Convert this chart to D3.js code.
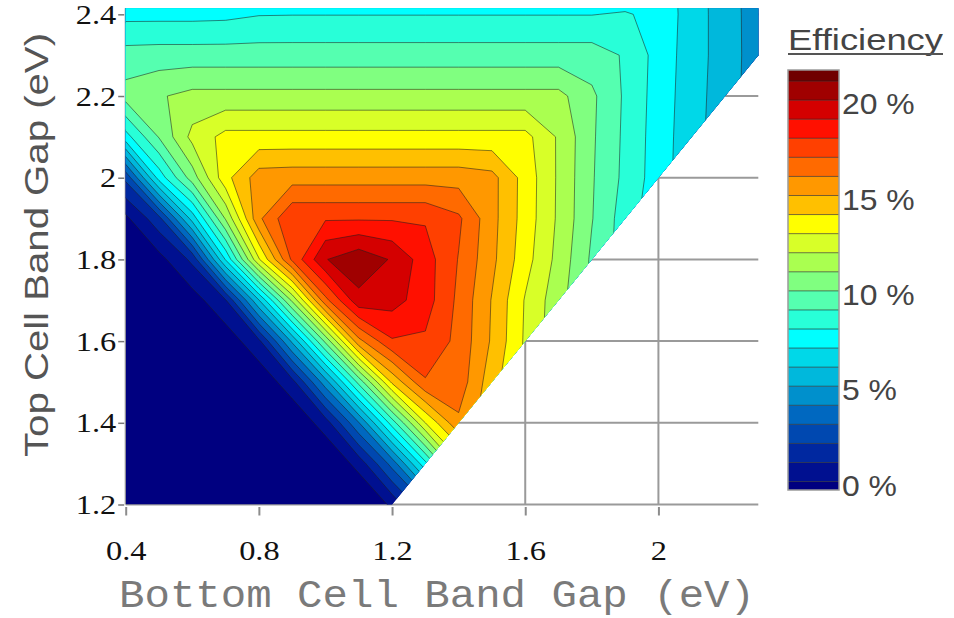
<!DOCTYPE html>
<html>
<head>
<meta charset="utf-8">
<script src="https://cdn.jsdelivr.net/npm/d3@7"></script>
<style>
  body { margin: 0; background: #fff; }
  svg { display: block; }
</style>
</head>
<body>
<svg id="chart" width="954" height="618"></svg>
<script>
// Band gap grid (eV): bottom cell along x, top cell along y
const bottomGap = [0.4, 0.5, 0.6, 0.7, 0.8, 0.9, 1.0, 1.1, 1.2, 1.3, 1.4, 1.5, 1.6, 1.7, 1.8, 1.9, 2.0, 2.1, 2.2, 2.3];
const topGap = [1.2, 1.3, 1.4, 1.5, 1.6, 1.7, 1.8, 1.9, 2.0, 2.1, 2.2, 2.3, 2.4, 2.5];

// Tandem efficiency (%) on the grid, one row per top-cell band gap
const eff_120 = [-11.2, -9.8, -8.3, -6.9, -5.5, -4.1, -2.6, -1.2, 0.21, 2.9, 7.0, 11.0, 12.5, 11.0, 9.5, 8.1, 6.9, 5.8, 4.8, 3.8];
const eff_130 = [-9.6, -8.2, -6.8, -5.4, -3.9, -2.5, -1.07, 0.36, 3.38, 7.7, 12.5, 14.0, 12.6, 11.1, 9.6, 8.2, 7.0, 5.9, 4.9, 3.9];
const eff_140 = [-8.1, -6.6, -5.2, -3.8, -2.4, -0.93, 0.5, 3.94, 8.47, 13.0, 15.8, 14.3, 12.7, 11.2, 9.7, 8.3, 7.1, 6.0, 5.0, 4.0];
const eff_150 = [-6.5, -5.1, -3.6, -2.2, -0.79, 0.64, 4.57, 9.33, 14.2, 16.9, 16.6, 14.4, 12.8, 11.3, 9.8, 8.4, 7.2, 6.1, 5.1, 4.1];
const eff_160 = [-4.9, -3.5, -2.1, -0.66, 0.77, 5.2, 10.25, 15.7, 17.9, 17.85, 16.7, 14.87, 12.85, 11.3, 9.8, 8.4, 7.2, 6.1, 5.1, 4.1];
const eff_170 = [-3.4, -1.9, -0.5, 0.91, 5.95, 11.2, 16.7, 19.7, 19.4, 18.46, 16.77, 14.94, 12.92, 11.38, 9.8, 8.4, 7.2, 6.1, 5.1, 4.1];
const eff_180 = [-1.8, -0.37, 1.23, 7.08, 12.9, 17.2, 19.95, 20.7, 19.9, 18.46, 16.95, 15.25, 13.4, 11.67, 9.83, 8.5, 7.2, 6.1, 5.1, 4.1];
const eff_190 = [-0.23, 1.66, 6.4, 11.1, 15.8, 17.9, 17.9, 17.9, 17.9, 17.9, 17.18, 15.33, 13.57, 11.83, 10.05, 8.5, 7.3, 6.2, 5.2, 4.2];
const eff_200 = [2.24, 7.4, 10.5, 13.67, 15.5, 15.59, 15.59, 15.59, 15.59, 15.59, 15.59, 15.33, 13.6, 11.85, 10.1, 8.75, 7.47, 6.35, 5.35, 4.35];
const eff_210 = [7.6, 10.07, 12.3, 13.32, 13.32, 13.32, 13.32, 13.32, 13.32, 13.32, 13.32, 13.32, 13.32, 11.87, 10.15, 8.8, 7.5, 6.4, 5.4, 4.4];
const eff_220 = [10.4, 10.9, 11.3, 11.3, 11.3, 11.3, 11.3, 11.3, 11.3, 11.3, 11.3, 11.3, 11.3, 11.3, 10.2, 8.85, 7.55, 6.45, 5.45, 4.5];
const eff_230 = [9.4, 9.46, 9.46, 9.46, 9.46, 9.46, 9.46, 9.46, 9.46, 9.46, 9.46, 9.46, 9.46, 9.46, 9.46, 8.9, 7.6, 6.5, 5.5, 4.5];
const eff_240 = [7.7, 7.7, 7.7, 7.75, 7.95, 7.97, 7.97, 7.97, 7.97, 7.97, 7.97, 7.97, 7.97, 7.97, 7.97, 8.1, 7.69, 6.52, 5.48, 4.5];
const eff_250 = [6.6, 6.6, 6.6, 6.6, 6.6, 6.6, 6.6, 6.6, 6.6, 6.6, 6.6, 6.6, 6.6, 6.6, 6.6, 6.6, 7.6, 6.5, 5.45, 4.45];

// Contour levels (%) and fill colours: first colour is below the lowest level
const levels = d3.range(0, 22);
const bandColors = ["#000080", "#001090", "#0028a0", "#0048b0", "#0068c0", "#0090cc", "#00b8dc", "#00d8e8",
  "#00ffff", "#28ffd8", "#55ffb0", "#80ff80", "#aaff50", "#d8ff28", "#ffff00", "#ffc000", "#ff9800",
  "#ff6a00", "#ff4000", "#ff1000", "#d40000", "#a00000", "#700000"];

// Axes
const xDomain = [0.4, 2.3];
const yDomain = [1.2, 2.415];
const xTicks = [0.4, 0.8, 1.2, 1.6, 2];
const yTicks = [1.2, 1.4, 1.6, 1.8, 2, 2.2, 2.4];

// Colour bar
const barDomain = [-0.44, 21.58];
const barTicks = [0, 5, 10, 15, 20];

const svg = d3.select("#chart");
const x = d3.scaleLinear().domain(xDomain).range([125.7, 758.3]);
const y = d3.scaleLinear().domain(yDomain).range([504.5, 8.2]);

// Grid lines (visible only outside the valid region)
const grid = svg.append("g").attr("stroke", "#9a9a9a").attr("stroke-width", 2);
grid.selectAll("line.v").data(xTicks).join("line")
  .attr("x1", d => x(d)).attr("x2", d => x(d))
  .attr("y1", y(yDomain[0])).attr("y2", y(yDomain[1]));
grid.selectAll("line.h").data(yTicks).join("line")
  .attr("x1", x(xDomain[0])).attr("x2", x(xDomain[1]))
  .attr("y1", d => y(d)).attr("y2", d => y(d));

// Valid region: top-cell gap not smaller than bottom-cell gap
const region = [[xDomain[0], yDomain[0]], [yDomain[0], yDomain[0]], [xDomain[1], xDomain[1]],
  [xDomain[1], yDomain[1]], [xDomain[0], yDomain[1]]];
svg.append("clipPath").attr("id", "valid")
  .append("path")
  .attr("d", d3.line().x(d => x(d[0])).y(d => y(d[1]))(region) + "Z");

const rows = [eff_120, eff_130, eff_140, eff_150, eff_160, eff_170, eff_180, eff_190,
  eff_200, eff_210, eff_220, eff_230, eff_240, eff_250];
const nx = bottomGap.length, ny = topGap.length;
const values = rows.flat();

const gx = d3.scaleLinear().domain([0.5, nx - 0.5]).range([x(bottomGap[0]), x(bottomGap[nx - 1])]);
const gy = d3.scaleLinear().domain([0.5, ny - 0.5]).range([y(topGap[0]), y(topGap[ny - 1])]);
const path = d3.geoPath(d3.geoTransform({
  point(px, py) { this.stream.point(gx(px), gy(py)); }
}));

const contours = d3.contours().size([nx, ny]).thresholds(levels)(values);

const plot = svg.append("g").attr("clip-path", "url(#valid)");
plot.append("rect")
  .attr("x", x(xDomain[0])).attr("y", y(yDomain[1]))
  .attr("width", x(xDomain[1]) - x(xDomain[0]))
  .attr("height", y(yDomain[0]) - y(yDomain[1]))
  .attr("fill", bandColors[0]);
plot.selectAll("path.band").data(contours).join("path")
  .attr("class", "band")
  .attr("d", path)
  .attr("fill", (d, i) => bandColors[i + 1])
  .attr("stroke", "#1e1e1e")
  .attr("stroke-opacity", 0.6)
  .attr("stroke-width", 0.9)
  .attr("stroke-linejoin", "round");

// X axis
const xAxis = svg.append("g")
  .attr("transform", `translate(0,${y(yDomain[0])})`)
  .call(d3.axisBottom(x).tickValues(xTicks).tickFormat(d => String(d)).tickSize(11).tickPadding(0));
xAxis.select(".domain").remove();
xAxis.selectAll(".tick line").attr("stroke", "#8c8c8c").attr("stroke-width", 2).attr("y1", 2.5);
xAxis.selectAll(".tick text")
  .attr("y", 0).attr("dy", 0)
  .attr("transform", "translate(0,55) scale(1.2,1)")
  .attr("fill", "#111")
  .style("font-family", "'Liberation Serif', 'Times New Roman', serif")
  .style("font-size", "27px");

// Y axis
const yAxis = svg.append("g")
  .attr("transform", `translate(${x(xDomain[0]) - 1.5},0)`)
  .call(d3.axisLeft(y).tickValues(yTicks).tickFormat(d => String(d)).tickSize(6).tickPadding(0));
yAxis.select(".domain").remove();
yAxis.selectAll(".tick line").attr("stroke", "#777").attr("stroke-width", 1.5);
yAxis.selectAll(".tick text")
  .attr("x", 0).attr("dy", 0)
  .attr("transform", "translate(-8,9) scale(1.2,1)")
  .attr("fill", "#111")
  .style("font-family", "'Liberation Serif', 'Times New Roman', serif")
  .style("font-size", "27px");

// Axis titles
svg.append("text")
  .attr("x", 437).attr("y", 607)
  .attr("text-anchor", "middle")
  .attr("textLength", 636).attr("lengthAdjust", "spacingAndGlyphs")
  .attr("fill", "#7a7a7a")
  .style("font-family", "'Liberation Mono', 'Courier New', monospace")
  .style("font-size", "39px")
  .text("Bottom Cell Band Gap (eV)");

svg.append("text")
  .attr("transform", "translate(48,245) rotate(-90)")
  .attr("text-anchor", "middle")
  .attr("textLength", 424).attr("lengthAdjust", "spacingAndGlyphs")
  .attr("fill", "#555")
  .style("font-family", "'Liberation Sans', Arial, sans-serif")
  .style("font-size", "34px")
  .text("Top Cell Band Gap (eV)");

// Colour bar legend
const bar = d3.scaleLinear().domain(barDomain).range([490, 70]);
const legend = svg.append("g");
const bandEdges = [barDomain[0], ...levels, barDomain[1]];
legend.selectAll("rect.band").data(d3.range(bandEdges.length - 1)).join("rect")
  .attr("class", "band")
  .attr("x", 788).attr("width", 51)
  .attr("y", i => bar(bandEdges[i + 1]))
  .attr("height", i => bar(bandEdges[i]) - bar(bandEdges[i + 1]))
  .attr("fill", i => bandColors[i]);
legend.selectAll("line.sep").data(levels).join("line")
  .attr("class", "sep")
  .attr("x1", 788).attr("x2", 839)
  .attr("y1", d => bar(d)).attr("y2", d => bar(d))
  .attr("stroke", "#1e1e1e").attr("stroke-opacity", 0.6).attr("stroke-width", 1);
legend.append("rect")
  .attr("x", 788).attr("y", 70).attr("width", 51).attr("height", 420)
  .attr("fill", "none").attr("stroke", "#9a9a9a").attr("stroke-width", 1.5);
legend.selectAll("text.tick").data(barTicks).join("text")
  .attr("class", "tick")
  .attr("x", 0).attr("y", 0)
  .attr("transform", d => `translate(842,${bar(d) + 14}) scale(1.1,1)`)
  .attr("fill", "#444")
  .style("font-family", "'Liberation Sans', Arial, sans-serif")
  .style("font-size", "29px")
  .text(d => `${d} %`);
legend.append("text")
  .attr("x", 788).attr("y", 50)
  .attr("textLength", 155).attr("lengthAdjust", "spacingAndGlyphs")
  .attr("fill", "#444")
  .style("font-family", "'Liberation Sans', Arial, sans-serif")
  .style("font-size", "30px")
  .text("Efficiency");
legend.append("line")
  .attr("x1", 788).attr("x2", 943).attr("y1", 54).attr("y2", 54)
  .attr("stroke", "#555").attr("stroke-width", 2);
</script>
</body>
</html>
